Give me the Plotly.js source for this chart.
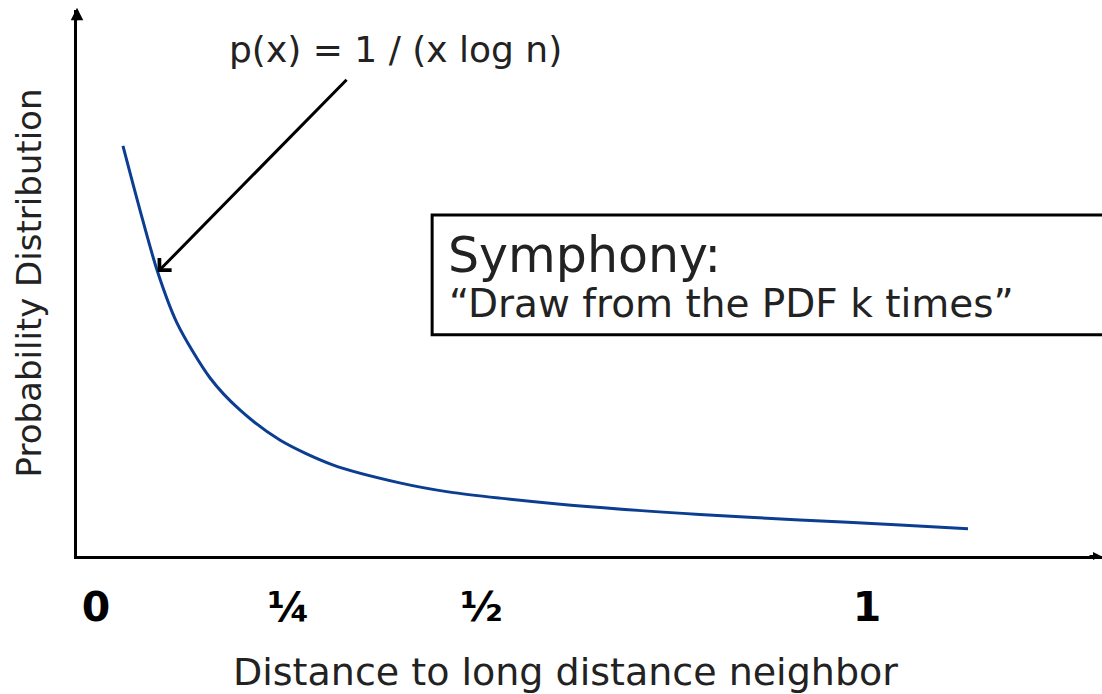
<!DOCTYPE html>
<html>
<head>
<meta charset="utf-8">
<script src="https://cdn.plot.ly/plotly-3.0.1.min.js"></script>
<style>
  html, body { margin: 0; padding: 0; background: #ffffff; }
  #chart { width: 1102px; height: 694px; }
</style>
</head>
<body>
<div id="chart"></div>
<script>
// Distance to the long-distance neighbour (fraction of the ring)
const distance = [0.035, 0.057, 0.080, 0.105, 0.148, 0.187, 0.239, 0.307,
                  0.394, 0.459, 0.524, 0.641, 0.783, 0.913, 1.043, 1.131];
// Relative probability density p(x) = 1 / (x log n)
const density = [0.751, 0.634, 0.520, 0.427, 0.326, 0.267, 0.212, 0.167,
                 0.134, 0.117, 0.106, 0.090, 0.076, 0.066, 0.057, 0.050];

// Tick labels on the distance axis
const tickValues = [0, 0.25, 0.5, 1];
const tickLabels = ['0', '¼', '½', '1'];

// Where the formula callout points on the curve
const calloutIndex = 2;

const FONT = 'DejaVu Sans, Verdana, sans-serif';
const INK = '#222222';

const curve = {
  x: distance,
  y: density,
  type: 'scatter',
  mode: 'lines',
  line: { color: '#0b3d91', width: 3, shape: 'spline', smoothing: 0.8 },
  hoverinfo: 'skip'
};

const layout = {
  width: 1102,
  height: 694,
  margin: { l: 77, r: 0, t: 10, b: 138 },
  paper_bgcolor: '#ffffff',
  plot_bgcolor: '#ffffff',
  showlegend: false,
  xaxis: {
    range: [-0.0246, 1.3048],
    showgrid: false,
    zeroline: false,
    showline: true,
    linecolor: '#000000',
    linewidth: 3,
    ticks: '',
    tickmode: 'array',
    tickvals: tickValues,
    ticktext: tickLabels,
    tickfont: { family: FONT, size: 41, color: '#000000', weight: 'bold' },
    ticklabelstandoff: 13,
    fixedrange: true
  },
  yaxis: {
    range: [0, 1],
    showgrid: false,
    zeroline: false,
    showline: true,
    linecolor: '#000000',
    linewidth: 3,
    ticks: '',
    showticklabels: false,
    title: {
      text: 'Probability Distribution',
      font: { family: FONT, size: 34, color: INK },
      standoff: 23
    },
    fixedrange: true
  },
  shapes: [
    {
      type: 'rect',
      xref: 'x', yref: 'y',
      x0: 0.436, x1: 1.6,
      y0: 0.405, y1: 0.6245,
      line: { color: '#000000', width: 3 },
      fillcolor: '#ffffff',
      layer: 'above'
    }
  ],
  annotations: [
    // horizontal axis title
    {
      xref: 'paper', yref: 'paper', x: 0.477, y: -0.2125,
      text: 'Distance to long distance neighbor',
      showarrow: false,
      font: { family: FONT, size: 38, color: INK },
      xanchor: 'center', yanchor: 'middle'
    },
    // arrowhead on the vertical axis
    {
      xref: 'paper', yref: 'paper', x: 0, y: 1.004,
      ax: 0, ay: 14, axref: 'pixel', ayref: 'pixel',
      text: '', showarrow: true,
      arrowhead: 2, arrowsize: 1, arrowwidth: 2.5, arrowcolor: '#000000'
    },
    // arrowhead on the horizontal axis
    {
      xref: 'paper', yref: 'paper', x: 1, y: 0,
      ax: -14, ay: 0, axref: 'pixel', ayref: 'pixel',
      text: '', showarrow: true,
      arrowhead: 2, arrowsize: 0.8, arrowwidth: 2, arrowcolor: '#000000'
    },
    // formula callout
    {
      xref: 'x', yref: 'y', x: 0.389, y: 0.927,
      text: 'p(x) = 1 / (x log n)',
      showarrow: false,
      font: { family: FONT, size: 36, color: INK },
      xanchor: 'center', yanchor: 'middle'
    },
    {
      xref: 'x', yref: 'y',
      x: distance[calloutIndex], y: density[calloutIndex],
      axref: 'x', ayref: 'y', ax: 0.327, ay: 0.875,
      text: '', showarrow: true,
      arrowhead: 4, arrowsize: 1.1, arrowwidth: 3, arrowcolor: '#000000'
    },
    // boxed note
    {
      xref: 'x', yref: 'y', x: 0.4545, y: 0.551,
      text: 'Symphony:',
      showarrow: false,
      font: { family: FONT, size: 49, color: INK },
      xanchor: 'left', yanchor: 'middle'
    },
    {
      xref: 'x', yref: 'y', x: 0.4550, y: 0.463,
      text: '“Draw from the PDF k times”',
      showarrow: false,
      font: { family: FONT, size: 39, color: INK },
      xanchor: 'left', yanchor: 'middle'
    }
  ]
};

Plotly.newPlot('chart', [curve], layout, { displayModeBar: false, staticPlot: true });
</script>
</body>
</html>
